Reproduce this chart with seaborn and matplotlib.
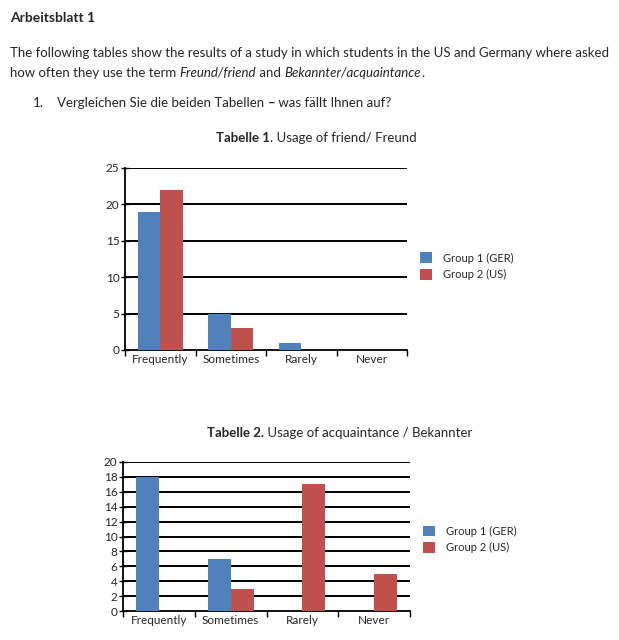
import pandas as pd
import matplotlib.pyplot as plt
import seaborn as sns

# Datos de las dos tablas
categorias = ['Frequently', 'Sometimes', 'Rarely', 'Never']
grupos = ['Group 1 (GER)', 'Group 2 (US)']
friend_ger = [19, 5, 1, 0]
friend_us = [22, 3, 0, 0]
acq_ger = [18, 7, 0, 0]
acq_us = [0, 3, 17, 5]

colores = ['#4F81BD', '#C0504D']

sns.set_theme(style='white')
plt.rcParams['font.family'] = ['Lato', 'DejaVu Sans']

W, H = 619, 640
fig = plt.figure(figsize=(W / 100, H / 100), dpi=100)

# eje de fondo para los textos de la hoja
bg = fig.add_axes([0, 0, 1, 1])
bg.axis('off')
bg.set_xlim(0, W)
bg.set_ylim(H, 0)

TAM = 9.5


def texto(x, y, s, size=TAM, **kw):
    return bg.text(x, y, s, fontsize=size, va='baseline', ha='left', **kw)


def seguir(prev, s, size=TAM, **kw):
    # coloca texto justo a la derecha del anterior
    return bg.annotate(s, xy=(1, 0), xycoords=prev, fontsize=size, va='bottom',
                       ha='left', annotation_clip=False, **kw)


# Encabezado
texto(10, 22, 'Arbeitsblatt 1', size=10, fontweight='bold')
texto(10, 57, 'The following tables show the results of a study in which students in the US and Germany where asked')
t = texto(10, 77, 'how often they use the term ')
t = seguir(t, 'Freund/friend', style='italic')
t = seguir(t, ' and ')
t = seguir(t, 'Bekannter/acquaintance', style='italic')
t = seguir(t, '.')
texto(33, 107, '1.')
t = texto(57, 107, 'Vergleichen Sie die beiden Tabellen ')
t = seguir(t, '\u2013', fontweight='bold')
seguir(t, ' was fällt Ihnen auf?')


def grafico(rect, ger, us, ymax, paso, ancla):
    ax = fig.add_axes(rect)
    df = pd.DataFrame({
        'cat': categorias * 2,
        'grupo': [grupos[0]] * 4 + [grupos[1]] * 4,
        'valor': ger + us,
    })
    sns.barplot(data=df, x='cat', y='valor', hue='grupo', palette=colores,
                width=0.64, saturation=1, linewidth=0, edgecolor='none',
                ax=ax, zorder=3)
    ax.set_xlim(-0.5, 3.5)
    ax.set_ylim(0, ymax)
    ax.set_yticks(range(0, ymax + 1, paso))
    ax.set_xlabel('')
    ax.set_ylabel('')
    for y in range(paso, ymax + 1, paso):
        ax.axhline(y, color='black', lw=1.4, zorder=1)
    for s in ['top', 'right']:
        ax.spines[s].set_visible(False)
    for s in ['left', 'bottom']:
        ax.spines[s].set_color('black')
        ax.spines[s].set_linewidth(1.3)
    ax.tick_params(axis='y', direction='inout', length=6, width=1, color='black',
                   left=True, labelsize=8.5, pad=1)
    ax.tick_params(axis='x', which='major', length=0, labelsize=8.5, pad=3)
    ax.set_xticks([-0.5, 0.5, 1.5, 2.5, 3.5], minor=True)
    ax.tick_params(axis='x', which='minor', direction='out', length=4, width=1,
                   color='black', bottom=True)
    ax.legend(loc='center left', bbox_to_anchor=ancla, frameon=False,
              fontsize=8, handlelength=1.1, handleheight=1.1, handletextpad=1.0,
              labelspacing=0.5)
    return ax


# Tabla 1
t = texto(216, 142, 'Tabelle 1', fontweight='bold')
seguir(t, '. Usage of friend/ Freund')
grafico([125 / W, 1 - 350 / H, 282 / W, 182 / H], friend_ger, friend_us, 25, 5,
        (1.01, 0.46))

# Tabla 2
t = texto(207, 437, 'Tabelle 2.', fontweight='bold')
seguir(t, ' Usage of acquaintance / Bekannter')
grafico([123 / W, 1 - 611 / H, 287 / W, 149 / H], acq_ger, acq_us, 20, 2,
        (1.01, 0.48))

fig.savefig('out.png', dpi=100, facecolor='white')
